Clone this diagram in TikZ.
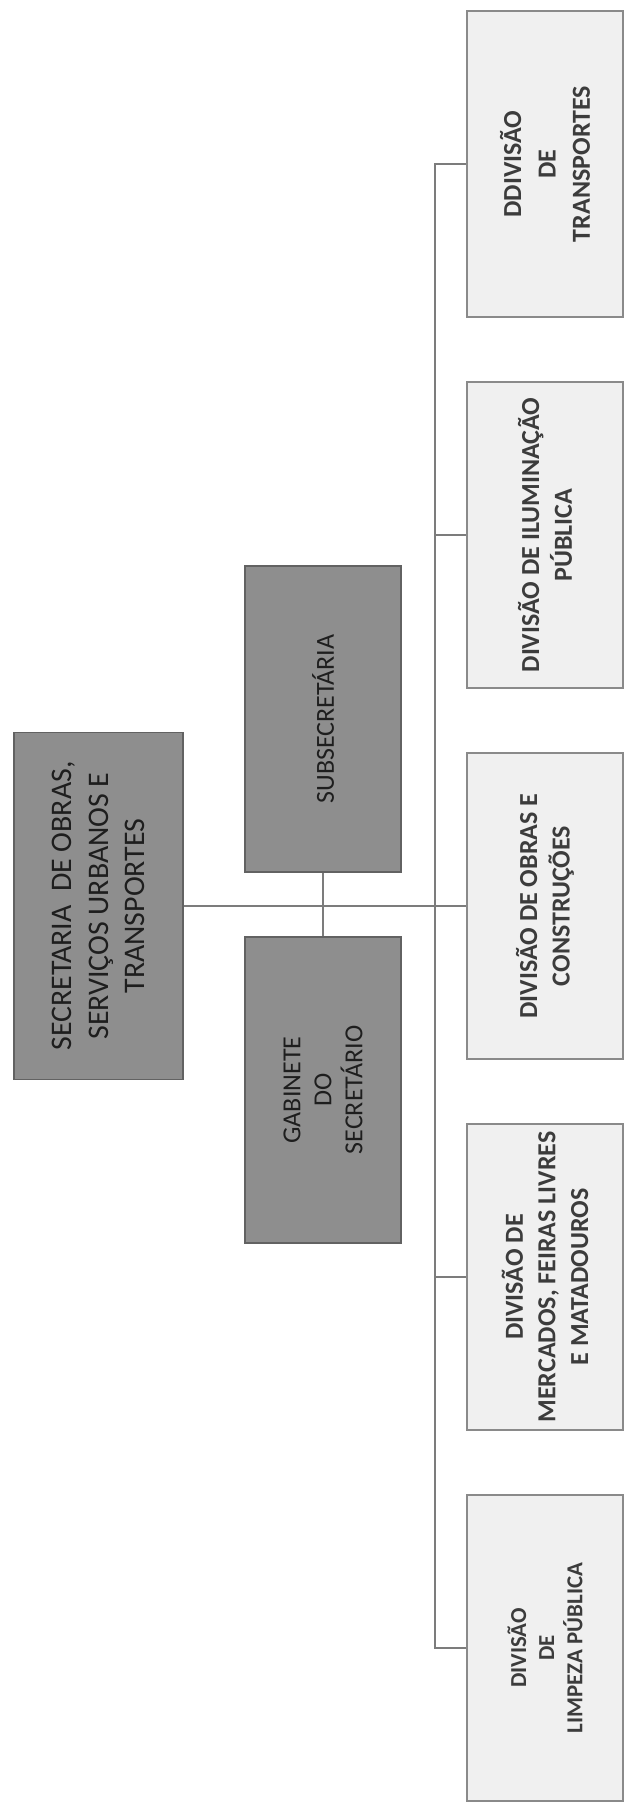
\documentclass[tikz,border=0pt]{standalone}
\usepackage{fontspec}
\setmainfont{Carlito}
\usetikzlibrary{positioning,calc}
\definecolor{OrgDark}{HTML}{8E8E8E}
\definecolor{OrgDarkEdge}{HTML}{626262}
\definecolor{OrgLight}{HTML}{F0F0F0}
\definecolor{OrgLightEdge}{HTML}{8A8A8A}
\definecolor{OrgLine}{HTML}{7C7C7C}
\definecolor{OrgInk}{HTML}{1E1E1E}
\definecolor{OrgInkLight}{HTML}{3C3C3C}

\begin{document}
\begin{tikzpicture}[
 head/.style={rotate=90,draw=OrgDarkEdge,line width=1pt,fill=OrgDark,minimum width=6.12cm,minimum height=3.12cm,align=center,text=OrgInk,font=\fontsize{14.8}{17.6}\selectfont},
 unit/.style={rotate=90,draw=OrgLightEdge,line width=1.2pt,fill=OrgLight,minimum width=6.12cm,minimum height=3.12cm,align=center,text=OrgInkLight,font=\bfseries\fontsize{14.8}{18.5}\selectfont},
 link/.style={draw=OrgLine,line width=1.5pt}]
\useasboundingbox (0,0) rectangle (12.58,-36.12);
% secretaria and its two staff offices
\node[head,minimum width=6.94cm,minimum height=3.38cm,font=\fontsize{17}{21}\selectfont] (sec) at (1.97,-18.12) {SECRETARIA\ \ DE OBRAS,\\SERVIÇOS URBANOS E\\TRANSPORTES};
\node[head] (sub) at (6.46,-14.38) {SUBSECRETÁRIA};
\node[head] (gab) at (6.46,-21.80) {GABINETE\\DO\\SECRETÁRIO};
% divisions
\node[unit,font=\bfseries\fontsize{14.8}{19.5}\selectfont] (trans) at (10.90,-3.28) {DDIVISÃO\\DE\\TRANSPORTES};
\node[unit] (ilum) at (10.90,-10.70) {DIVISÃO DE ILUMINAÇÃO\\PÚBLICA};
\node[unit] (obras) at (10.90,-18.12) {DIVISÃO DE OBRAS E\\CONSTRUÇÕES};
\node[unit] (merc) at (10.90,-25.54) {DIVISÃO DE\\MERCADOS, FEIRAS LIVRES\\E MATADOUROS};
\node[unit,font=\bfseries\fontsize{13}{16}\selectfont] (limp) at (10.90,-32.96) {DIVISÃO\\DE\\LIMPEZA PÚBLICA};
% connectors
\coordinate (bus) at (8.70,-18.12);
\draw[link] (sec.south) -- (obras.north);
\draw[link] (sub.west) -- (gab.east);
\draw[link] (trans.north) -| (bus) |- (limp.north);
\draw[link] (ilum.north) -| (bus);
\draw[link] (merc.north) -| (bus);
\end{tikzpicture}
\end{document}
